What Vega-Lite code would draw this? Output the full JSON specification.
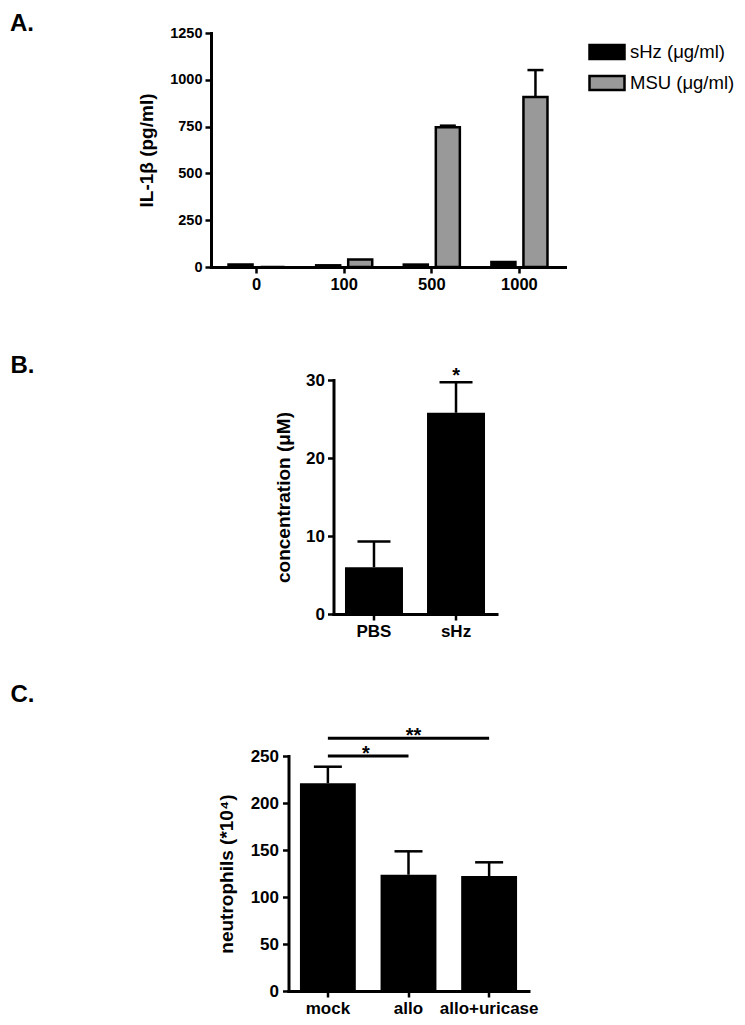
{
  "$schema": "https://vega.github.io/schema/vega-lite/v6.json",
  "padding": {"left": 10, "top": 12, "right": 0, "bottom": 0},
  "background": "white",
  "spacing": 44,
  "center": true,
  "config": {
    "view": {"stroke": null},
    "font": "Liberation Sans",
    "axis": {
      "domainColor": "black", "domainWidth": 3, "domainCap": "square",
      "tickColor": "black", "tickWidth": 2.5, "tickSize": 6,
      "labelColor": "black", "labelFont": "Liberation Sans", "labelFontWeight": "bold",
      "titleFont": "Liberation Sans", "titleFontWeight": "bold", "titleColor": "black",
      "titleFontSize": 19, "grid": false
    },
    "title": {"font": "Liberation Sans", "fontSize": 24, "fontWeight": "bold", "color": "black", "anchor": "start", "frame": "group", "offset": 0}
  },
  "resolve": {"scale": {"color": "independent", "x": "independent", "y": "independent"}, "legend": {"color": "independent"}},
  "vconcat": [
    {
      "width": 354, "height": 234,
      "title": {"text": "A.", "dx": -201, "dy": 15},
      "data": {"values": [
        {"dose": "0", "series": "sHz (μg/ml)", "value": 13, "upper": 13},
        {"dose": "100", "series": "sHz (μg/ml)", "value": 9, "upper": 9},
        {"dose": "500", "series": "sHz (μg/ml)", "value": 13, "upper": 13},
        {"dose": "1000", "series": "sHz (μg/ml)", "value": 27, "upper": 27},
        {"dose": "0", "series": "MSU (μg/ml)", "value": 0, "upper": 0},
        {"dose": "100", "series": "MSU (μg/ml)", "value": 40, "upper": 40},
        {"dose": "500", "series": "MSU (μg/ml)", "value": 747, "upper": 755},
        {"dose": "1000", "series": "MSU (μg/ml)", "value": 908, "upper": 1052}
      ]},
      "encoding": {
        "x": {"field": "dose", "type": "nominal", "sort": ["0", "100", "500", "1000"],
          "scale": {"paddingInner": 0.36, "paddingOuter": 0.2},
          "axis": {"title": "\u00a0", "titleFontSize": 10, "titlePadding": 6, "labelAngle": 0, "labelFontSize": 16.5, "labelPadding": 3}},
        "xOffset": {"field": "series", "type": "nominal", "sort": ["sHz (μg/ml)", "MSU (μg/ml)"],
          "scale": {"paddingInner": 0.25, "paddingOuter": 0}}
      },
      "layer": [
        {
          "transform": [{"filter": "datum.upper > datum.value"}],
          "mark": {"type": "rule", "color": "black", "strokeWidth": 2.5},
          "encoding": {"y": {"field": "value", "type": "quantitative"}, "y2": {"field": "upper"}}
        },
        {
          "transform": [{"filter": "datum.upper > datum.value"}],
          "mark": {"type": "tick", "color": "black", "thickness": 2.5, "size": 16, "opacity": 1},
          "encoding": {"y": {"field": "upper", "type": "quantitative"}}
        },
        {
          "mark": {"type": "bar", "stroke": "black", "strokeWidth": 2.5, "opacity": 1},
          "encoding": {
            "y": {"field": "value", "type": "quantitative",
              "scale": {"domain": [0, 1250], "nice": false},
              "axis": {"title": "IL-1β (pg/ml)", "values": [0, 250, 500, 750, 1000, 1250], "format": "d", "labelFontSize": 14.5, "labelPadding": 3, "titlePadding": 13}},
            "color": {"field": "series", "type": "nominal", "sort": ["sHz (μg/ml)", "MSU (μg/ml)"],
              "scale": {"domain": ["sHz (μg/ml)", "MSU (μg/ml)"], "range": ["#000000", "#999999"]},
              "legend": {"title": null, "orient": "right", "offset": 23, "padding": 0,
                "labelFont": "Liberation Sans", "labelFontSize": 18.5, "labelFontWeight": "normal", "labelColor": "black",
                "symbolType": "M-1,-0.4H1V0.4H-1Z", "symbolSize": 1225, "symbolStrokeColor": "black", "symbolStrokeWidth": 2.5,
                "symbolOpacity": 1, "rowPadding": -7, "labelOffset": 4}}
          }
        }
      ]
    },
    {
      "width": 163, "height": 234,
      "title": {"text": "B.", "dx": -323, "dy": 16},
      "resolve": {"axis": {"y": "independent"}},
      "encoding": {
        "x": {"field": "group", "type": "nominal", "sort": ["PBS", "sHz"],
          "scale": {"domain": ["PBS", "sHz"], "paddingInner": 0.293, "paddingOuter": 0.14},
          "axis": {"title": null, "labelAngle": 0, "labelAlign": "center", "labelFontSize": 17, "labelPadding": 3}}
      },
      "layer": [
        {
          "data": {"values": [
            {"group": "PBS", "value": 6.0, "upper": 9.3},
            {"group": "sHz", "value": 25.8, "upper": 29.7}
          ]},
          "layer": [
            {
              "mark": {"type": "rule", "color": "black", "strokeWidth": 2.5},
              "encoding": {"y": {"field": "value", "type": "quantitative"}, "y2": {"field": "upper"}}
            },
            {
              "mark": {"type": "tick", "color": "black", "thickness": 2.5, "size": 33, "opacity": 1},
              "encoding": {"y": {"field": "upper", "type": "quantitative"}}
            },
            {
              "mark": {"type": "bar", "color": "black", "opacity": 1},
              "encoding": {
                "y": {"field": "value", "type": "quantitative",
                  "scale": {"domain": [0, 30], "nice": false},
                  "axis": {"title": "concentration (μM)", "values": [0, 10, 20, 30], "labelFontSize": 17, "labelPadding": 3, "titlePadding": 12}}
              }
            }
          ]
        },
        {
          "data": {"values": [{"group": "sHz", "pos": 29.8, "label": "*"}]},
          "mark": {"type": "text", "font": "Liberation Sans", "fontSize": 20, "fontWeight": "bold", "color": "black", "baseline": "alphabetic"},
          "encoding": {
            "y": {"field": "pos", "type": "quantitative",
              "axis": {"orient": "right", "domain": false, "ticks": false, "labels": false, "title": "\u00a0", "titleFontSize": 10, "titlePadding": 106}},
            "text": {"field": "label"}
          }
        }
      ]
    },
    {
      "width": 240, "height": 235,
      "title": {"text": "C.", "dx": -278, "dy": -15},
      "resolve": {"axis": {"y": "independent"}},
      "encoding": {
        "x": {"field": "group", "type": "nominal", "sort": ["mock", "allo", "allo+uricase"],
          "scale": {"domain": ["mock", "allo", "allo+uricase"], "paddingInner": 0.307, "paddingOuter": 0.142},
          "axis": {"title": null, "labelAngle": 0, "labelAlign": "center", "labelFontSize": 17, "labelPadding": 3}}
      },
      "layer": [
        {
          "data": {"values": [
            {"group": "mock", "value": 221, "upper": 238.6},
            {"group": "allo", "value": 123.7, "upper": 148.6},
            {"group": "allo+uricase", "value": 122.3, "upper": 136.9}
          ]},
          "layer": [
            {
              "mark": {"type": "rule", "color": "black", "strokeWidth": 2.5},
              "encoding": {"y": {"field": "value", "type": "quantitative"}, "y2": {"field": "upper"}}
            },
            {
              "mark": {"type": "tick", "color": "black", "thickness": 2.5, "size": 28, "opacity": 1},
              "encoding": {"y": {"field": "upper", "type": "quantitative"}}
            },
            {
              "mark": {"type": "bar", "color": "black", "opacity": 1},
              "encoding": {
                "y": {"field": "value", "type": "quantitative",
                  "scale": {"domain": [0, 250], "nice": false},
                  "axis": {"title": "neutrophils (*10⁴)", "values": [0, 50, 100, 150, 200, 250], "labelFontSize": 17, "labelPadding": 4, "titlePadding": 14}}
              }
            }
          ]
        },
        {
          "data": {"values": [
            {"group": "mock", "to": "allo", "level": 250, "label": "*"},
            {"group": "mock", "to": "allo+uricase", "level": 269, "label": "**"}
          ]},
          "mark": {"type": "rule", "color": "black", "strokeWidth": 3},
          "encoding": {
            "x2": {"field": "to"},
            "y": {"field": "level", "type": "quantitative", "axis": null}
          }
        },
        {
          "data": {"values": [{"group": "mock", "level": 250, "label": "*"}]},
          "mark": {"type": "text", "font": "Liberation Sans", "fontSize": 20, "fontWeight": "bold", "color": "black", "baseline": "alphabetic", "dy": 4, "dx": 38},
          "encoding": {
            "y": {"field": "level", "type": "quantitative", "axis": null},
            "text": {"field": "label"}
          }
        },
        {
          "data": {"values": [{"group": "allo", "level": 269, "label": "**"}]},
          "mark": {"type": "text", "font": "Liberation Sans", "fontSize": 20, "fontWeight": "bold", "color": "black", "baseline": "alphabetic", "dy": 4, "dx": 5},
          "encoding": {
            "y": {"field": "level", "type": "quantitative",
              "axis": {"orient": "right", "domain": false, "ticks": false, "labels": false, "title": "\u00a0", "titleFontSize": 10, "titlePadding": 119}},
            "text": {"field": "label"}
          }
        }
      ]
    }
  ]
}
